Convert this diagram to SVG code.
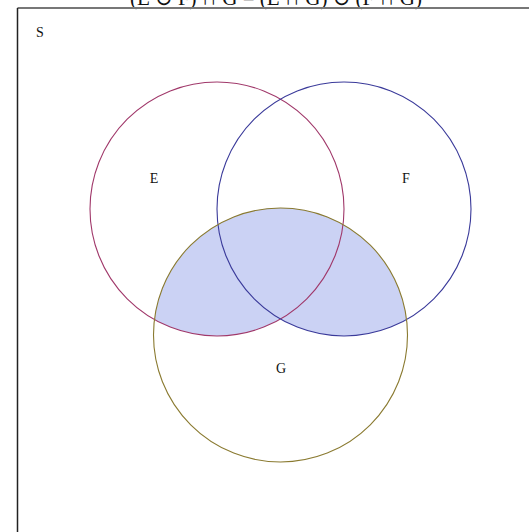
<svg xmlns="http://www.w3.org/2000/svg" width="529" height="532" viewBox="0 0 529 532">
<style>
.lbl{font-family:"Liberation Serif","DejaVu Serif",serif;font-size:14px;fill:#111;text-anchor:middle}
.title{font-family:"Liberation Serif","DejaVu Serif",serif;font-size:21px;fill:#111;text-anchor:middle}
.set{fill:none;stroke-width:1.1}
</style>
<defs>
<clipPath id="clipG"><circle cx="280.5" cy="335" r="127"/></clipPath>
</defs>
<rect x="0" y="0" width="529" height="532" fill="#fff"/>
<text class="title" x="276" y="5">(E ∪ F) ∩ G = (E ∩ G) ∪ (F ∩ G)</text>
<g id="universe">
<line x1="17.5" y1="8" x2="529" y2="8" stroke="#777" stroke-width="2"/>
<line x1="17.5" y1="8" x2="17.5" y2="532" stroke="#222" stroke-width="1.5"/>
<text class="lbl" x="40" y="37">S</text>
</g>
<g id="shaded" clip-path="url(#clipG)" fill="#cbd2f4">
<circle cx="217" cy="209" r="127"/>
<circle cx="344" cy="209" r="127"/>
</g>
<g id="connectors"></g>
<g id="E">
<circle class="set" cx="217" cy="209" r="127" stroke="#a0386a"/>
<text class="lbl" x="154" y="183">E</text>
</g>
<g id="F">
<circle class="set" cx="344" cy="209" r="127" stroke="#3a3a9a"/>
<text class="lbl" x="406" y="183">F</text>
</g>
<g id="G">
<circle class="set" cx="280.5" cy="335" r="127" stroke="#8a7a30"/>
<text class="lbl" x="281" y="373">G</text>
</g>
</svg>
